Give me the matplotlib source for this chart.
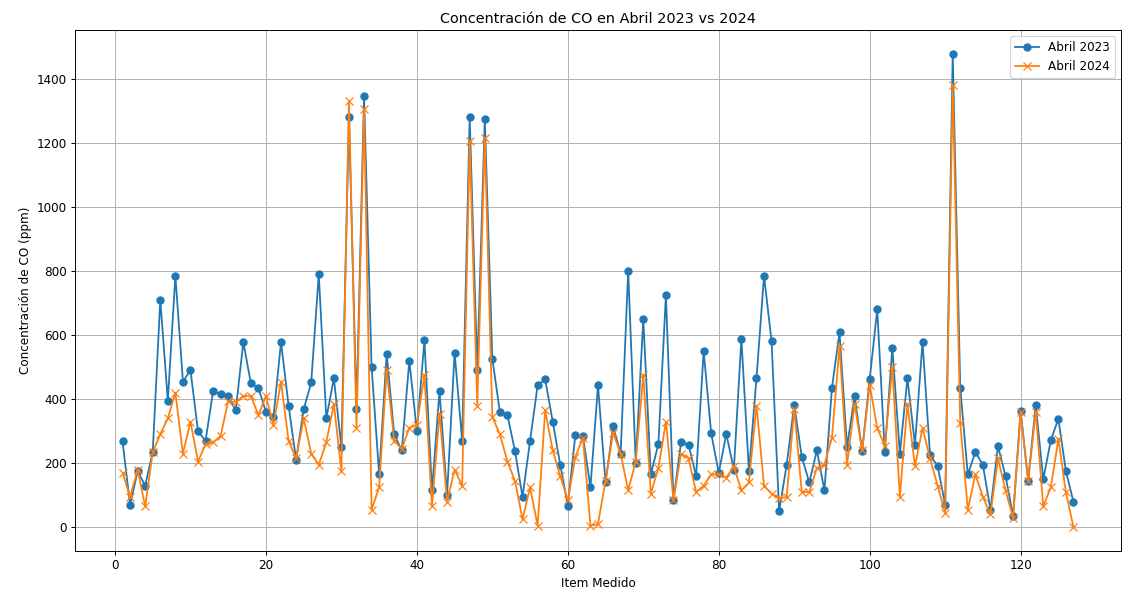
import matplotlib
matplotlib.use('Agg')
import matplotlib.pyplot as plt
import numpy as np

# valores (ppm)
co_2023 = [268, 70, 175, 130, 235, 710, 395, 785, 455, 490,
           300, 270, 425, 415, 410, 365, 578, 450, 435, 360,
           345, 578, 380, 210, 368, 452, 790, 340, 465, 250,
           1280, 370, 1345, 500, 165, 540, 290, 240, 520, 300,
           583, 115, 425, 100, 545, 270, 1280, 490, 1275, 525,
           360, 350, 238, 95, 270, 443, 462, 330, 195, 68,
           288, 285, 125, 443, 140, 315, 230, 800, 200, 650,
           165, 260, 725, 85, 265, 258, 160, 550, 293, 170,
           292, 180, 588, 175, 465, 785, 580, 50, 195, 382,
           220, 140, 240, 115, 435, 608, 250, 410, 238, 462,
           680, 235, 560, 230, 465, 258, 578, 225, 192, 70,
           1478, 435, 165, 235, 195, 55, 253, 160, 35, 363,
           145, 382, 150, 272, 338, 175, 80]

co_2024 = [170, 95, 180, 65, 235, 290, 340, 420, 230, 330,
           205, 260, 265, 285, 395, 390, 410, 410, 350, 410,
           320, 455, 270, 215, 340, 230, 195, 265, 385, 175,
           1330, 310, 1305, 55, 125, 490, 270, 245, 310, 320,
           475, 65, 355, 80, 180, 130, 1205, 380, 1215, 345,
           290, 205, 145, 25, 125, 5, 365, 240, 160, 85,
           220, 280, 5, 10, 145, 295, 230, 115, 205, 475,
           105, 185, 330, 85, 230, 215, 110, 130, 165, 165,
           155, 190, 115, 140, 380, 130, 105, 90, 95, 370,
           110, 110, 185, 195, 280, 565, 195, 385, 240, 445,
           310, 255, 500, 95, 385, 190, 310, 215, 130, 45,
           1380, 325, 55, 165, 95, 40, 215, 115, 30, 360,
           145, 360, 65, 125, 275, 110, 0]

items = np.arange(1, len(co_2023) + 1)

d = 86
fig = plt.figure(figsize=(1123 / d, 599 / d), dpi=d)
plt.plot(items, co_2023, marker='o', label='Abril 2023')
plt.plot(items, co_2024, marker='x', label='Abril 2024')
plt.title('Concentración de CO en Abril 2023 vs 2024')
plt.xlabel('Item Medido')
plt.ylabel('Concentración de CO (ppm)')
plt.legend()
plt.grid(True)
plt.subplots_adjust(left=75 / 1123, right=1121 / 1123, top=1 - 30 / 599, bottom=1 - 551 / 599)
plt.savefig('out.png', dpi=d)
